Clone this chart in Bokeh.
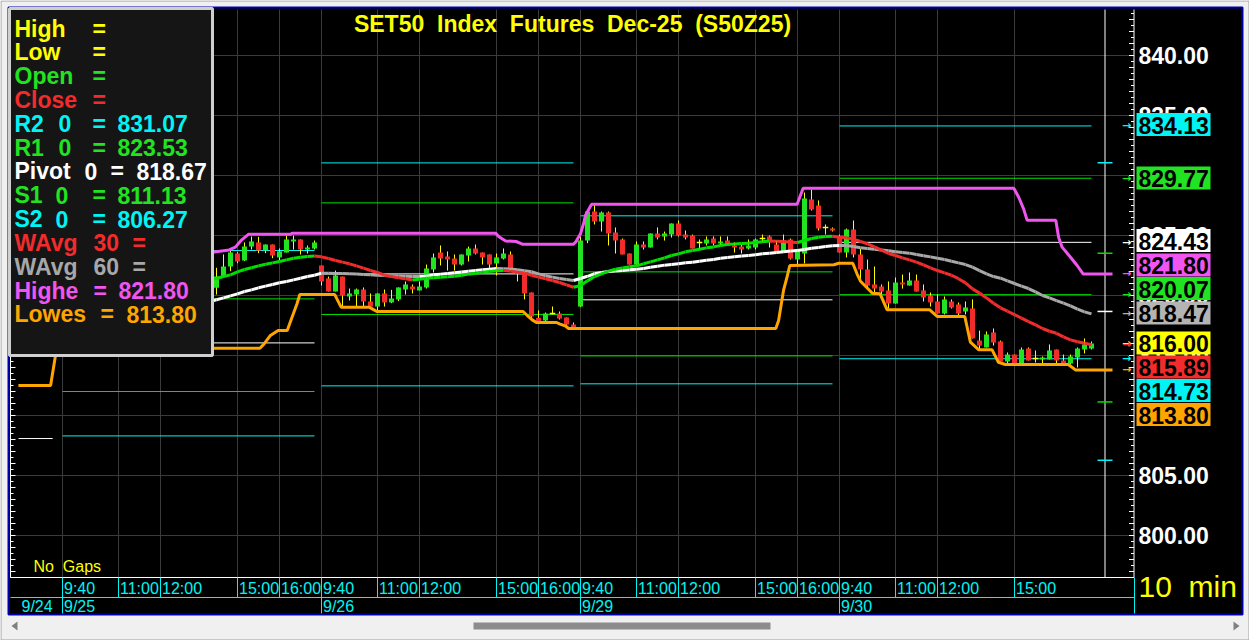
import numpy as np
from bokeh.plotting import figure
from bokeh.models import Range1d, ColumnDataSource
from bokeh.core.properties import value
from bokeh.embed import file_html
from bokeh.resources import INLINE

NB = "\u00a0"
# ------------------------------------------------------------------ data
chart_title = f"SET50{NB}{NB}Index{NB}{NB}Futures{NB}{NB}Dec-25{NB}{NB}(S50Z25)"
days = ["9/24", "9/25", "9/26", "9/29", "9/30"]
day_start = [-37, 0, 37, 74, 111]           # bar index of each day's 9:40 bar
time_labels = ["9:40", "11:00", "12:00", "15:00", "16:00"]
time_offsets = [0, 8, 14, 25, 31]           # bars after 9:40
labels_shown = [5, 5, 5, 4]                 # time labels shown for 9/25..9/30
bar_minutes = f"10{NB}{NB}min"
gaps_text = f"No{NB}{NB}Gaps"

bar_index = list(range(22, 148))
open_ = [820.64, 821.58, 822.42, 823.50, 822.92, 824.08, 824.42, 823.75, 824.25, 823.17,
         823.58, 824.50, 824.67, 823.83, 823.92, 822.50, 821.42, 820.33, 821.58, 819.92,
         820.08, 820.50, 819.50, 819.08, 820.17, 819.42, 819.67, 820.50, 820.75, 820.42,
         820.67, 822.17, 823.58, 823.25, 823.08, 822.58, 823.33, 823.92, 823.58, 823.42,
         822.67, 823.08, 823.42, 822.08, 821.92, 820.25, 818.14, 817.92, 818.50, 818.50,
         818.17, 817.58, 819.08, 824.58, 827.00, 826.17, 826.92, 825.25, 824.67, 823.50,
         822.58, 824.25, 824.00, 825.17, 824.92, 825.08, 826.00, 825.08, 825.00, 824.42,
         824.33, 824.75, 824.33, 824.58, 824.17, 824.08, 823.92, 824.00, 824.75, 824.92,
         824.25, 823.67, 824.67, 823.00, 823.50, 828.00, 827.50, 825.67, 825.58, 824.92,
         823.58, 825.50, 823.42, 822.17, 820.92, 820.75, 820.42, 819.33, 821.08, 820.83,
         821.25, 820.42, 820.00, 819.50, 818.50, 819.50, 819.25, 818.67, 818.92, 816.25,
         815.67, 816.92, 816.17, 814.50, 815.08, 814.25, 815.58, 814.75, 814.67, 814.67,
         815.50, 814.58, 814.33, 814.83, 815.50, 815.58]
high = [822.31, 823.42, 823.75, 823.61, 824.42, 824.92, 824.89, 824.25, 824.25, 823.92,
        825.00, 825.00, 824.67, 824.17, 824.58, 822.50, 821.58, 822.08, 821.58, 820.58,
        820.58, 820.67, 820.17, 820.17, 820.50, 820.47, 820.67, 821.17, 820.92, 821.17,
        822.58, 823.50, 824.17, 823.67, 823.42, 823.42, 824.08, 824.25, 823.58, 823.42,
        823.50, 823.92, 823.67, 822.17, 822.00, 820.25, 818.75, 818.58, 819.08, 818.67,
        818.17, 817.75, 824.92, 827.00, 827.56, 827.00, 827.00, 825.67, 824.75, 823.50,
        824.50, 824.50, 825.17, 825.67, 825.33, 826.00, 826.25, 825.42, 825.08, 824.67,
        824.92, 824.92, 824.92, 824.92, 824.42, 824.25, 824.67, 824.75, 825.08, 825.00,
        824.58, 825.08, 824.75, 823.83, 828.58, 828.83, 827.92, 825.92, 825.67, 825.08,
        825.58, 826.25, 823.92, 823.00, 822.42, 820.92, 821.17, 821.50, 821.75, 821.92,
        821.75, 820.92, 820.25, 820.08, 819.92, 819.67, 819.42, 819.50, 819.67, 817.08,
        817.00, 817.25, 816.25, 815.25, 815.08, 815.67, 815.67, 815.42, 814.92, 815.92,
        815.50, 815.08, 815.08, 815.67, 816.42, 816.17]
low = [820.08, 821.53, 822.03, 822.69, 822.86, 823.83, 823.53, 823.53, 823.11, 822.92,
       823.58, 823.83, 823.42, 823.50, 823.83, 820.83, 820.33, 820.33, 819.08, 819.58,
       819.08, 819.08, 819.08, 818.75, 819.08, 819.36, 819.53, 820.08, 820.17, 820.42,
       820.58, 821.92, 822.50, 822.08, 822.08, 822.50, 822.83, 823.42, 822.58, 822.17,
       821.67, 823.00, 822.08, 821.17, 819.67, 817.92, 817.75, 817.75, 818.42, 818.00,
       817.42, 817.25, 819.03, 824.36, 825.92, 825.33, 824.17, 823.50, 823.42, 822.58,
       822.50, 823.83, 824.00, 824.67, 824.58, 824.83, 824.92, 824.67, 823.92, 823.83,
       824.17, 824.17, 824.17, 824.17, 823.58, 823.50, 823.83, 823.83, 824.42, 824.00,
       823.58, 823.58, 823.00, 822.58, 822.67, 827.08, 825.42, 825.08, 825.33, 823.58,
       823.17, 823.17, 821.33, 820.67, 820.17, 820.08, 818.92, 819.33, 820.58, 820.83,
       820.33, 819.50, 819.08, 818.50, 818.42, 818.92, 818.25, 818.42, 816.42, 815.50,
       815.67, 815.83, 814.50, 814.33, 814.25, 814.25, 814.58, 814.42, 814.25, 814.67,
       814.33, 814.33, 814.25, 814.00, 815.17, 815.50]
close = [821.58, 822.42, 823.58, 822.83, 824.08, 824.50, 823.75, 824.25, 823.33, 823.67,
         824.67, 824.67, 823.83, 824.00, 824.42, 821.17, 820.33, 821.67, 820.00, 820.17,
         820.50, 819.50, 819.08, 820.17, 819.42, 819.75, 820.67, 820.92, 820.50, 820.75,
         822.25, 823.17, 823.08, 823.00, 822.58, 823.42, 823.92, 823.50, 823.17, 822.58,
         823.17, 823.50, 822.25, 821.83, 820.17, 818.25, 817.83, 818.50, 818.50, 818.08,
         817.58, 817.33, 824.58, 827.00, 826.17, 826.92, 825.17, 824.58, 823.42, 822.58,
         824.25, 824.00, 825.17, 824.83, 825.17, 826.00, 825.00, 824.83, 823.92, 824.42,
         824.67, 824.33, 824.50, 824.25, 824.00, 823.83, 824.17, 824.67, 824.75, 824.42,
         823.67, 824.58, 823.08, 823.75, 828.08, 827.17, 825.58, 825.67, 825.42, 823.58,
         825.50, 823.42, 822.17, 820.83, 820.58, 820.33, 819.33, 821.08, 820.92, 821.25,
         820.33, 819.83, 819.42, 818.50, 819.67, 819.00, 818.50, 819.00, 816.42, 815.83,
         816.75, 816.08, 814.50, 815.08, 814.25, 815.50, 814.58, 814.75, 814.83, 815.42,
         814.58, 814.33, 814.92, 815.58, 815.92, 816.00]

# weighted averages (index 21..147)
wavg_index = list(range(21, 148))
wavg30 = [821.30, 821.42, 821.58, 821.72, 821.97, 822.17, 822.31, 822.47, 822.61, 822.72,
          822.83, 822.97, 823.11, 823.19, 823.25, 823.30, 823.22, 823.08, 822.92, 822.78,
          822.64, 822.47, 822.28, 822.08, 821.92, 821.69, 821.58, 821.47, 821.39, 821.30,
          821.36, 821.44, 821.47, 821.53, 821.56, 821.61, 821.69, 821.78, 821.86, 821.94,
          822.00, 822.06, 822.08, 822.03, 821.94, 821.86, 821.69, 821.53, 821.39, 821.25,
          821.08, 820.89, 820.69, 820.83, 821.22, 821.58, 821.81, 822.03, 822.19, 822.30,
          822.39, 822.47, 822.64, 822.80, 822.97, 823.14, 823.33, 823.47, 823.64, 823.75,
          823.86, 823.97, 824.05, 824.17, 824.25, 824.30, 824.33, 824.36, 824.42, 824.47,
          824.55, 824.52, 824.50, 824.44, 824.42, 824.58, 824.75, 824.86, 824.92, 824.94,
          824.86, 824.81, 824.69, 824.50, 824.30, 824.06, 823.78, 823.50, 823.33, 823.14,
          822.97, 822.78, 822.55, 822.30, 822.08, 821.89, 821.69, 821.40, 821.05, 820.55,
          820.20, 819.80, 819.35, 818.97, 818.69, 818.40, 818.12, 817.83, 817.55, 817.25,
          817.02, 816.85, 816.55, 816.30, 816.15, 816.02, 815.89]
wavg60 = [819.50, 819.64, 819.80, 819.97, 820.14, 820.33, 820.47, 820.64, 820.78, 820.92,
          821.06, 821.17, 821.30, 821.44, 821.58, 821.69, 821.86, 821.85, 821.84, 821.83,
          821.81, 821.79, 821.75, 821.72, 821.69, 821.67, 821.64, 821.62, 821.60, 821.59,
          821.58, 821.60, 821.72, 821.78, 821.84, 821.89, 821.96, 822.03, 822.08, 822.14,
          822.19, 822.25, 822.23, 822.20, 822.14, 822.06, 821.98, 821.80, 821.64, 821.53,
          821.42, 821.33, 821.25, 821.42, 821.60, 821.81, 821.92, 822.00, 822.05, 822.08,
          822.14, 822.19, 822.25, 822.36, 822.44, 822.53, 822.58, 822.64, 822.72, 822.78,
          822.86, 822.94, 823.00, 823.11, 823.17, 823.22, 823.30, 823.33, 823.39, 823.47,
          823.53, 823.58, 823.64, 823.70, 823.75, 823.83, 823.94, 824.00, 824.08, 824.14,
          824.17, 824.16, 824.08, 823.98, 823.92, 823.86, 823.80, 823.72, 823.64, 823.58,
          823.53, 823.42, 823.31, 823.22, 823.11, 823.00, 822.86, 822.72, 822.58, 822.36,
          822.08, 821.80, 821.58, 821.44, 821.22, 821.00, 820.78, 820.58, 820.30, 820.00,
          819.80, 819.58, 819.36, 819.14, 818.86, 818.64, 818.47]

highe_x = [21.4, 23.8, 24.7, 25.6, 26.6, 32.6, 32.8, 61.9, 62.3, 63.3, 64.8, 65.7, 73.0,
           73.3, 74.0, 74.5, 74.7, 75.4, 75.6, 104.95, 105.8, 135.9, 136.6, 137.3, 137.8,
           141.9, 142.3, 142.8, 144.0, 144.95, 145.8, 150.0]
highe_y = [823.61, 823.80, 824.03, 824.64, 825.11, 825.11, 825.19, 825.19, 824.92, 824.55,
           824.50, 824.28, 824.28, 824.44, 825.14, 826.11, 826.67, 827.41, 827.61, 827.61,
           828.94, 828.94, 828.19, 827.22, 826.28, 826.28, 824.86, 824.03, 823.19, 822.50,
           821.80, 821.80]
lowes_x = [-6.3, -1.7, -1.0, 0.0, 21.3, 28.2, 28.8, 29.7, 30.8, 32.1, 32.7, 33.5, 33.9,
           38.9, 39.2, 39.8, 43.8, 44.5, 44.9, 65.8, 66.4, 67.1, 67.7, 70.6, 71.0, 71.9,
           72.3, 101.9, 102.3, 103.0, 103.5, 103.9, 110.2, 110.9, 112.9, 113.5, 114.0,
           115.7, 116.8, 117.8, 123.9, 124.95, 128.9, 129.7, 130.9, 132.8, 133.7, 134.7,
           143.7, 144.7, 150.0]
lowes_y = [812.50, 812.50, 815.00, 816.50, 815.61, 815.61, 815.97, 816.67, 817.08, 817.08,
           818.05, 819.31, 820.08, 820.08, 819.72, 819.03, 819.03, 818.80, 818.67, 818.67,
           818.33, 817.97, 817.75, 817.75, 817.64, 817.44, 817.25, 817.25, 817.92, 820.42,
           821.53, 822.50, 822.56, 822.69, 822.69, 821.81, 821.19, 820.19, 820.14, 818.81,
           818.81, 818.25, 818.25, 816.11, 815.47, 815.47, 814.44, 814.25, 814.25, 813.80,
           813.80]

# daily pivot levels (9/25 .. 9/30)
r2 = [823.75, 831.05, 826.64, 834.13]
r1 = [819.72, 827.72, 821.97, 829.77]
pivot = [816.05, 821.80, 819.64, 824.43]
s1 = [812.00, 818.42, 814.97, 820.07]
s2 = [808.30, 812.47, 812.64, 814.73]
pivot_0924 = 808.08
# next-session levels ("0")
r2_0, r1_0, pivot_0, s1_0, s2_0 = 831.07, 823.53, 818.67, 811.13, 806.27
price_ticks = [800, 805, 810, 815, 820, 825, 830, 835, 840]

# ------------------------------------------------------------------ layout helpers
W, H = 1249, 640
def X(px):   # page x pixel -> bar index
    return (px - 62) / 7.0
def Y(py):   # page y pixel -> price
    return 800 + (535 - py) / 12.0

GRID = "#3a3a3a"; GREEN = "#22e322"; RED = "#f22c2c"; CYAN = "#00f4f4"
YEL = "#ffff00"; MAG = "#f055f0"; ORG = "#ffa500"; GRAY = "#a8a8a8"; WHITE = "#ffffff"
BLUE = "#0000a8"; LGREEN = "#00e000"
FONT = "Liberation Sans"

p = figure(width=W, height=H, x_range=Range1d(X(0), X(W)), y_range=Range1d(Y(H), Y(0)),
           x_axis_location=None, y_axis_location=None, min_border=0, toolbar_location=None,
           output_backend="svg", background_fill_color="#f0f0f0", border_fill_color="#f0f0f0",
           outline_line_color=None)
p.grid.visible = False

def txt(xs, ys, texts, colors, size, font=FONT, style="bold", align="left", baseline="middle"):
    src = ColumnDataSource(dict(x=xs, y=ys, text=texts, c=colors))
    p.text(x="x", y="y", text="text", text_color="c", source=src, text_font=value(font),
           text_font_size=size, text_font_style=style, text_align=align, text_baseline=baseline)

def seg(x0, y0, x1, y1, color, width=1):
    p.segment(x0=x0, y0=y0, x1=x1, y1=y1, line_color=color, line_width=width)

# window frame / chart area with blue border
p.quad(left=[X(0.5)], right=[X(1248.5)], bottom=[Y(639.5)], top=[Y(0.5)], fill_color=None,
       line_color="#a0a0a0", line_width=1)
p.quad(left=[X(8)], right=[X(1242)], bottom=[Y(614)], top=[Y(7)], fill_color="black",
       line_color=BLUE, line_width=2)

# grid
gx = []
for k, s in enumerate(day_start[1:]):
    for off in time_offsets[:labels_shown[k]]:
        gx.append(s + off)
seg([X(10)] * len(price_ticks), price_ticks, [X(1133)] * len(price_ticks), price_ticks, GRID)
seg(gx, [Y(577)] * len(gx), gx, [Y(9)] * len(gx), GRID)

# pivot level lines per day
lv_x0, lv_x1, lv_y, lv_c = [], [], [], []
for k, s in enumerate(day_start[1:]):
    for arr, c in ((r2, CYAN), (r1, LGREEN), (pivot, WHITE), (s1, LGREEN), (s2, CYAN)):
        lv_x0.append(s); lv_x1.append(s + 36); lv_y.append(arr[k]); lv_c.append(c)
lv_x0.append(X(18)); lv_x1.append(day_start[1] - 1.4); lv_y.append(pivot_0924); lv_c.append(WHITE)
seg(lv_x0, lv_y, lv_x1, lv_y, lv_c)

# next-session marker line and level ticks
seg([X(1104.5)], [Y(577)], [X(1104.5)], [Y(9)], WHITE)
nl = [r2_0, r1_0, pivot_0, s1_0, s2_0]
seg([X(1097)] * 5, nl, [X(1112)] * 5, nl, [CYAN, LGREEN, WHITE, LGREEN, CYAN], 1.5)

# candles
bi = np.array(bar_index, dtype=float)
o = np.array(open_); c = np.array(close); hi = np.array(high); lo = np.array(low)
seg(bi, hi, bi, lo, YEL)
up = c > o; dn = c < o; dj = c == o
p.vbar(x=bi[up], width=0.72, top=c[up], bottom=o[up], fill_color=GREEN, line_color=None)
p.vbar(x=bi[dn], width=0.72, top=o[dn], bottom=c[dn], fill_color=RED, line_color=None)
seg(bi[dj] - 0.4, c[dj], bi[dj] + 0.4, c[dj], YEL, 1.5)

# moving averages, coloured by direction
def slope_line(xs, ys, upc, dnc):
    xs = list(xs); ys = list(ys)
    cols = [upc if ys[k + 1] >= ys[k] else dnc for k in range(len(ys) - 1)]
    seg(xs[:-1], ys[:-1], xs[1:], ys[1:], cols, 3)
slope_line(wavg_index, wavg60, WHITE, GRAY)
slope_line(wavg_index, wavg30, LGREEN, RED)
p.line(highe_x, highe_y, line_color=MAG, line_width=3)
p.line(lowes_x, lowes_y, line_color=ORG, line_width=3)

# axes lines / ticks
tv = np.arange(796.5, 843.6, 0.5)
tl = np.where(np.mod(tv, 1.0) == 0, 5, 3)
seg([X(1133.5)], [Y(577)], [X(1133.5)], [Y(9)], WHITE)
seg([X(1133.5 - t) for t in tl], tv, [X(1133.5)] * len(tv), tv, WHITE)
seg([X(10)], [Y(577)], [X(10)], [Y(9)], WHITE)
seg([X(10)] * len(tv), tv, [X(10 + t) for t in tl], tv, WHITE)
seg([X(10)], [Y(577)], [X(1133.5)], [Y(577)], WHITE)

# legend box
p.quad(left=[X(9)], right=[X(212)], bottom=[Y(355)], top=[Y(8)], fill_color="#151515",
       line_color="#cfcfcf", line_width=3)
fmt = lambda v: f"{v:.2f}"
rows = [
    [("High", 14, YEL), ("=", 92, YEL)],
    [("Low", 14, YEL), ("=", 92, YEL)],
    [("Open", 14, GREEN), ("=", 92, GREEN)],
    [("Close", 14, RED), ("=", 92, RED)],
    [("R2", 14, CYAN), ("0", 58, CYAN), ("=", 92, CYAN), (fmt(r2_0), 117, CYAN)],
    [("R1", 14, GREEN), ("0", 58, GREEN), ("=", 92, GREEN), (fmt(r1_0), 117, GREEN)],
    [("Pivot", 14, WHITE), ("0", 84, WHITE), ("=", 110, WHITE), (fmt(pivot_0), 136, WHITE)],
    [("S1", 14, GREEN), ("0", 55, GREEN), ("=", 92, GREEN), (fmt(s1_0), 117, GREEN)],
    [("S2", 14, CYAN), ("0", 55, CYAN), ("=", 92, CYAN), (fmt(s2_0), 117, CYAN)],
    [("WAvg", 14, RED), ("30", 93, RED), ("=", 132, RED)],
    [("WAvg", 14, GRAY), ("60", 93, GRAY), ("=", 132, GRAY)],
    [("Highe", 14, MAG), ("=", 93, MAG), (fmt(highe_y[-1]), 118, MAG)],
    [("Lowes", 14, ORG), ("=", 100, ORG), (fmt(lowes_y[-1]), 126, ORG)],
]
lx, ly, lt, lc = [], [], [], []
for r, row in enumerate(rows):
    for t, xpx, col in row:
        lx.append(X(xpx)); ly.append(Y(28 + 23.83 * r)); lt.append(t); lc.append(col)
txt(lx, ly, lt, lc, "23px")

# title
txt([X(572)], [Y(23)], [chart_title], [YEL], "23px", align="center")

# time axis
tx, ty, tt = [], [], []
sep_x = []
for k, s in enumerate(day_start[1:]):
    for lab, off in list(zip(time_labels, time_offsets))[:labels_shown[k]]:
        tx.append(s + off + 1.5 / 7); ty.append(Y(587.5)); tt.append(lab); sep_x.append(s + off)
seg(sep_x, [Y(577)] * len(sep_x), sep_x, [Y(597)] * len(sep_x), CYAN)
ds = day_start[1:]
seg(ds, [Y(597)] * len(ds), ds, [Y(613)] * len(ds), CYAN)
seg([X(10)], [Y(597)], [X(1134)], [Y(597)], CYAN)
seg([X(1134)], [Y(577)], [X(1134)], [Y(613)], CYAN)
dx = [X(21)] + [s + 1.5 / 7 for s in ds]
txt(tx, ty, tt, [CYAN] * len(tt), "16px", style="normal")
txt(dx, [Y(605.5)] * len(dx), days, [CYAN] * len(days), "16px", style="normal")

# price axis labels
txt([X(1138)] * len(price_ticks), price_ticks, [f"{v:.2f}" for v in price_ticks],
    [WHITE] * len(price_ticks), "23px")

# value boxes on the price axis
boxes = [(r2[-1], CYAN, 124), (r1[-1], GREEN, 177.5), (pivot[-1], WHITE, 240),
         (highe_y[-1], MAG, 264.5), (s1[-1], GREEN, 288), (wavg60[-1], "#b4b4b4", 312.5),
         (close[-1], YEL, 342.5), (wavg30[-1], RED, 366.5), (s2[-1], CYAN, 390),
         (lowes_y[-1], ORG, 414)]
p.quad(left=[X(1136)] * len(boxes), right=[X(1210)] * len(boxes),
       bottom=[Y(b[2] + 11.5) for b in boxes], top=[Y(b[2] - 11.5) for b in boxes],
       fill_color=[b[1] for b in boxes], line_color=None)
txt([X(1138)] * len(boxes), [Y(b[2] + 0.5) for b in boxes], [fmt(b[0]) for b in boxes],
    ["black"] * len(boxes), "23px")
txt([X(1126)] * len(boxes), [b[0] for b in boxes], ["\u2192"] * len(boxes),
    [b[1] for b in boxes], "11px", font="DejaVu Sans", style="bold", align="center")

# footer texts
txt([X(33)], [Y(566)], [gaps_text], [YEL], "16px", style="normal")
txt([X(1138)], [Y(586)], [bar_minutes], [YEL], "30px", style="normal")

# scrollbar
p.quad(left=[X(473)], right=[X(770)], bottom=[Y(629)], top=[Y(622)], fill_color="#8c8c8c",
       line_color=None)
p.patches(xs=[[X(11), X(17), X(17)], [X(1239), X(1233), X(1233)]],
          ys=[[Y(625.5), Y(621), Y(630)], [Y(625.5), Y(621), Y(630)]],
          fill_color="#808080", line_color=None)

open("out.html", "w").write(file_html(p, INLINE))
